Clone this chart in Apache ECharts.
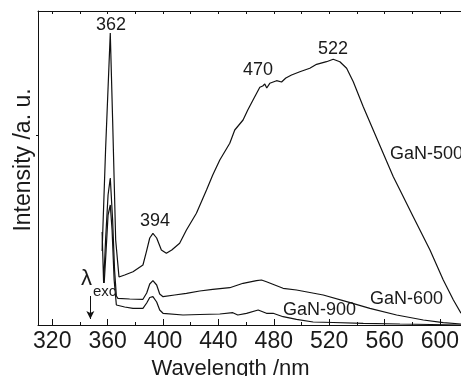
<!DOCTYPE html>
<html>
<head>
<meta charset="utf-8">
<script src="https://cdn.jsdelivr.net/npm/echarts@6/dist/echarts.min.js"></script>
<style>
html,body{margin:0;padding:0;background:#fff;}
#chart{width:461px;height:376px;}
</style>
</head>
<body>
<div id="chart"></div>
<script>
// ---- data (wavelength in nm, intensity in arbitrary units) ----
const wl500 = [356.0,358.5,361.9,363.6,365.8,368.2,372.3,378.3,385.5,388.0,390.4,392.7,395.4,398.8,402.4,406.3,412.0,416.9,424.1,431.4,435.9,441.0,448.2,451.8,457.8,461.2,465.0,469.9,472.0,473.5,474.9,477.1,482.0,485.6,488.7,492.8,498.8,502.4,506.0,510.9,518.1,522.9,527.7,532.6,537.4,544.6,551.8,559.0,566.3,571.1,580.7,592.8,602.4,609.7,615.2];
const int500 = [74,175,292,205,85,48,50,53.3,60,73.3,87,91.7,87,75,71.7,75,81.7,95,111.7,135,150,165,181.7,195,205,215,225,237.7,239,241,237,241.7,244.3,243,247,250,253.3,255,256.7,260.7,263.3,265.7,263.3,256.7,243.3,218.3,195,171.7,148.3,135,108.3,75,45,25,11.7];

const wl600 = [356.0,356.6,357.1,358.5,360.3,361.9,363.6,365.0,366.3,367.4,375.9,385.5,388.2,390.4,392.7,395.4,397.6,400.0,408.4,416.9,426.5,435.9,448.2,457.8,467.5,471.1,474.7,486.7,496.4,515.7,532.6,549.4,568.7,588.0,602.4,615.2];
const int600 = [93,65,42,85,130,147,105,55,29,26.7,26,25.7,32,41,44.3,40,31,28.3,30,31.7,34,35.7,37.3,41.7,44.3,45,43.3,36.7,35,30,23.3,16.7,10,5,2.3,1];

const wl900 = [357.5,358.9,360.3,361.9,363.2,364.7,366.3,372.3,378.3,385.5,388.2,390.4,392.7,395.4,397.6,400.0,414.4,426.5,441.0,450.4,454.0,460.3,468.7,474.7,479.5,486.7,496.4,508.4,522.9,544.6,571.1,615.2];
const int900 = [42,75,110,120,95,45,20,18,16.7,16.7,22,27.5,28.3,23,15,11.7,10,10.5,11,12.3,10,11.7,15,11.7,11.7,8.3,5.7,3,2.5,1.7,1,0];

const xLabelTicks = [320,360,400,440,480,520,560,600];
const xMinorTicks = [340,380,420,460,500,540,580];
const xTopTicks = [320,340,360,380,400,420,440,460,480,500,520,540,560,580,600];
const seriesNames = ['GaN-500','GaN-600','GaN-900'];
const peakLabels = ['362','394','470','522'];

const pairs = (xs, ys) => xs.map((x, i) => [x, ys[i]]);

const FONT = '"Liberation Sans", Arial, Helvetica, sans-serif';
const TXT = '#1a1a1a';
const LINE = '#111';

const chart = echarts.init(document.getElementById('chart'), null, {renderer: 'canvas'});

const xMin = 309.7, xMax = 615.2;

const lineSeries = (name, data) => ({
  name, type: 'line', data, xAxisIndex: 0, yAxisIndex: 0,
  showSymbol: false, symbol: 'none', clip: true, animation: false,
  lineStyle: {color: LINE, width: 1.2}
});

const s500 = lineSeries(seriesNames[0], pairs(wl500, int500));
s500.markLine = {
  silent: true, animation: false,
  symbol: ['none', 'arrow'], symbolSize: [6, 8],
  lineStyle: {color: LINE, width: 1, type: 'solid'},
  label: {show: false},
  data: [[{coord: [347.5, 29]}, {coord: [347.5, 6]}]]
};

const option = {
  animation: false,
  backgroundColor: '#fff',
  grid: {left: 38, right: 0, top: 11, bottom: 51, containLabel: false, outerBoundsMode: 'none'},
  xAxis: [
    {
      type: 'value', position: 'bottom', min: xMin, max: xMax,
      axisLine: {show: true, onZero: false, lineStyle: {color: LINE, width: 1}},
      axisTick: {show: true, inside: true, length: 6, customValues: xLabelTicks, lineStyle: {color: LINE}},
      axisLabel: {show: true, customValues: xLabelTicks, margin: 5, color: TXT, fontFamily: FONT, fontSize: 23},
      splitLine: {show: false},
      name: 'Wavelength /nm', nameLocation: 'middle', nameGap: 27,
      nameTextStyle: {color: TXT, fontFamily: FONT, fontSize: 22, padding: [0, 38, 0, 0]}
    },
    {
      type: 'value', position: 'bottom', min: xMin, max: xMax,
      axisLine: {show: false, onZero: false},
      axisTick: {show: true, inside: true, length: 3, customValues: xMinorTicks, lineStyle: {color: LINE}},
      axisLabel: {show: false}, splitLine: {show: false}
    },
    {
      type: 'value', position: 'top', min: xMin, max: xMax,
      axisLine: {show: true, onZero: false, lineStyle: {color: LINE, width: 1}},
      axisTick: {show: true, inside: true, length: 3, customValues: xTopTicks, lineStyle: {color: LINE}},
      axisLabel: {show: false}, splitLine: {show: false}
    }
  ],
  yAxis: [
    {
      type: 'value', position: 'left', min: 0, max: 314,
      axisLine: {show: true, onZero: false, lineStyle: {color: LINE, width: 1}},
      axisTick: {show: true, inside: false, length: 2, customValues: [190], lineStyle: {color: LINE}},
      axisLabel: {show: false}, splitLine: {show: false},
      name: 'Intensity /a. u.', nameLocation: 'middle', nameGap: 3, nameRotate: 90,
      nameTextStyle: {color: TXT, fontFamily: FONT, fontSize: 23, padding: [0, 0, 0, 16]}
    }
  ],
  series: [
    s500,
    lineSeries(seriesNames[1], pairs(wl600, int600)),
    lineSeries(seriesNames[2], pairs(wl900, int900))
  ],
  graphic: [
    {type: 'text', left: 96, top: 16, style: {text: peakLabels[0], fill: TXT, font: '18px ' + FONT}},
    {type: 'text', left: 140, top: 212, style: {text: peakLabels[1], fill: TXT, font: '18px ' + FONT}},
    {type: 'text', left: 243, top: 61, style: {text: peakLabels[2], fill: TXT, font: '18px ' + FONT}},
    {type: 'text', left: 318, top: 40, style: {text: peakLabels[3], fill: TXT, font: '18px ' + FONT}},
    {type: 'text', left: 390, top: 145, style: {text: seriesNames[0], fill: TXT, font: '18px ' + FONT}},
    {type: 'text', left: 370, top: 290, style: {text: seriesNames[1], fill: TXT, font: '18px ' + FONT}},
    {type: 'text', left: 283, top: 301, style: {text: seriesNames[2], fill: TXT, font: '18px ' + FONT}},
    {type: 'text', left: 81, top: 268, style: {text: 'λ', fill: TXT, font: '22px ' + FONT}},
    {type: 'text', left: 93, top: 284, style: {text: 'exc', fill: TXT, font: '15px ' + FONT}}
  ]
};

chart.setOption(option);
</script>
</body>
</html>
